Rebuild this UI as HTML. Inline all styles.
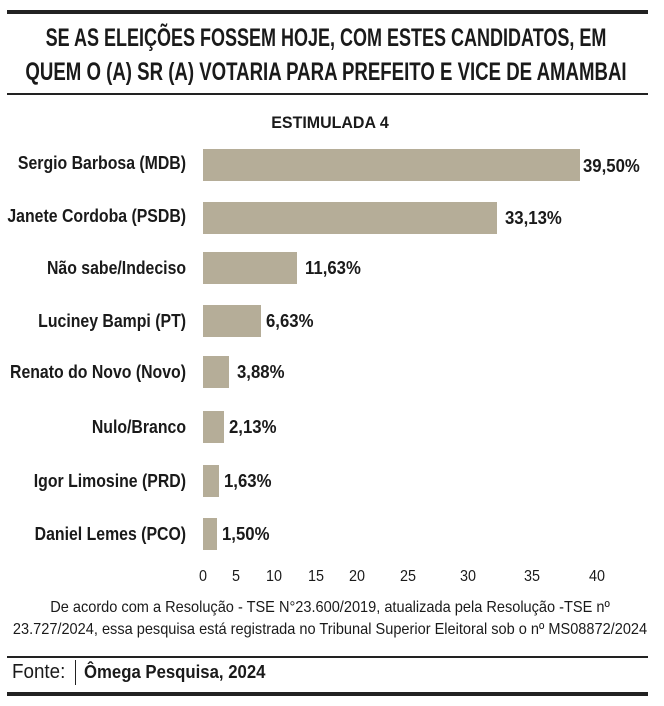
<!DOCTYPE html>
<html><head><meta charset="utf-8"><style>
body{margin:0;width:664px;height:706px;background:#fff;position:relative;overflow:hidden;font-family:"Liberation Sans",sans-serif;color:#1a1a1a}
.a{position:absolute;white-space:nowrap}
.t{font-weight:bold;font-size:25px;left:326px}
.l{font-weight:bold;font-size:18px;right:478px;transform:scaleX(0.88);transform-origin:right center}
.bar{position:absolute;left:203px;height:32px;background:#b5ad98}
.v{font-weight:bold;font-size:18px;transform:scaleX(0.93);transform-origin:left center}
.k{font-size:16px;top:568px;transform:translateX(-50%) scaleX(0.9)}
.f{font-size:16px;left:330px;transform:translateX(-50%) scaleX(0.91)}
</style></head><body>
<div class="a" style="left:7px;top:10px;width:641px;height:4px;background:#222"></div>
<div class="a t" style="top:24px;transform:translateX(-50%) scaleX(0.72)">SE AS ELEIÇÕES FOSSEM HOJE, COM ESTES CANDIDATOS, EM</div>
<div class="a t" style="top:58px;transform:translateX(-50%) scaleX(0.745)">QUEM O (A) SR (A) VOTARIA PARA PREFEITO E VICE DE AMAMBAI</div>
<div class="a" style="left:7px;top:93px;width:641px;height:2px;background:#222"></div>
<div class="a" style="left:330px;top:113px;font-weight:bold;font-size:17px;transform:translateX(-50%) scaleX(0.94)">ESTIMULADA 4</div>

<div class="a l" style="top:153px">Sergio Barbosa (MDB)</div>
<div class="bar" style="top:149px;width:377px"></div>
<div class="a v" style="left:583px;top:156px">39,50%</div>

<div class="a l" style="top:206px">Janete Cordoba (PSDB)</div>
<div class="bar" style="top:202px;width:294px"></div>
<div class="a v" style="left:505px;top:208px">33,13%</div>

<div class="a l" style="top:258px">Não sabe/Indeciso</div>
<div class="bar" style="top:252px;width:94px"></div>
<div class="a v" style="left:305px;top:258px">11,63%</div>

<div class="a l" style="top:311px">Luciney Bampi (PT)</div>
<div class="bar" style="top:305px;width:58px"></div>
<div class="a v" style="left:266px;top:311px">6,63%</div>

<div class="a l" style="top:362px">Renato do Novo (Novo)</div>
<div class="bar" style="top:356px;width:26px"></div>
<div class="a v" style="left:237px;top:362px">3,88%</div>

<div class="a l" style="top:417px">Nulo/Branco</div>
<div class="bar" style="top:411px;width:21px"></div>
<div class="a v" style="left:229px;top:417px">2,13%</div>

<div class="a l" style="top:471px">Igor Limosine (PRD)</div>
<div class="bar" style="top:465px;width:16px"></div>
<div class="a v" style="left:224px;top:471px">1,63%</div>

<div class="a l" style="top:524px">Daniel Lemes (PCO)</div>
<div class="bar" style="top:518px;width:14px"></div>
<div class="a v" style="left:222px;top:524px">1,50%</div>

<div class="a k" style="left:203px">0</div>
<div class="a k" style="left:236px">5</div>
<div class="a k" style="left:274px">10</div>
<div class="a k" style="left:316px">15</div>
<div class="a k" style="left:357px">20</div>
<div class="a k" style="left:408px">25</div>
<div class="a k" style="left:468px">30</div>
<div class="a k" style="left:532px">35</div>
<div class="a k" style="left:597px">40</div>

<div class="a f" style="top:599px">De acordo com a Resolução - TSE N°23.600/2019, atualizada pela Resolução -TSE nº</div>
<div class="a f" style="top:621px">23.727/2024, essa pesquisa está registrada no Tribunal Superior Eleitoral sob o nº MS08872/2024</div>
<div class="a" style="left:7px;top:656px;width:641px;height:2px;background:#222"></div>
<div class="a" style="left:12px;top:661px;font-size:20px;transform:scaleX(0.94);transform-origin:left">Fonte:</div>
<div class="a" style="left:75px;top:660px;width:1px;height:25px;background:#222"></div>
<div class="a" style="left:84px;top:662px;font-size:18px;font-weight:bold;transform:scaleX(0.93);transform-origin:left">Ômega Pesquisa, 2024</div>
<div class="a" style="left:7px;top:692px;width:641px;height:4px;background:#222"></div>
</body></html>
